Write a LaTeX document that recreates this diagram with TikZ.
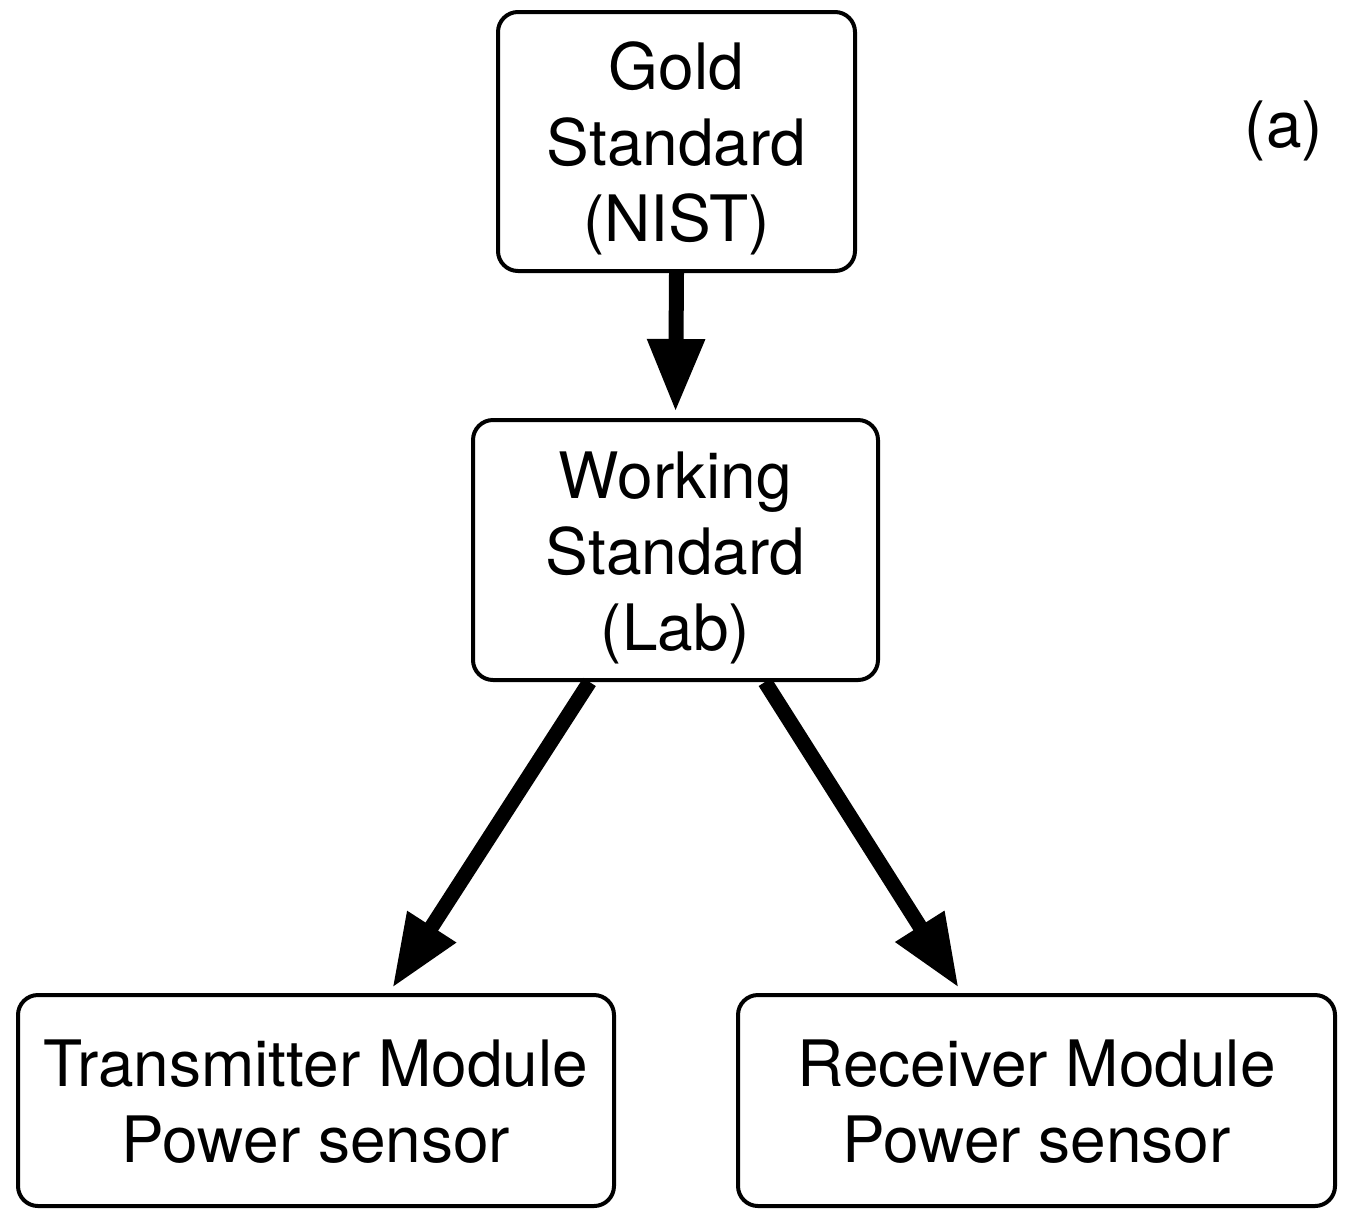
\documentclass[tikz,border=0pt]{standalone}
\usepackage{fontspec}
\setmainfont{TeX Gyre Heros}
\usetikzlibrary{arrows.meta}
\newcommand\bxtxt[1]{\raisebox{-9pt}[\height][\depth]{\begin{tabular}{@{}c@{}}#1\end{tabular}}}
\begin{document}
\begin{tikzpicture}[x=1pt,y=-1pt,
  box/.style={draw=black, line width=4pt, rounded corners=20pt,
    font=\fontsize{64}{76}\selectfont, inner sep=0pt},
  conn/.style={line width=15pt, -{Triangle[length=73pt,width=54pt]}, shorten >=6pt}]
\useasboundingbox (0,0) rectangle (1356,1211);
\node[box, minimum width=357pt, minimum height=259pt] (gold) at (676.5,141.5) {\bxtxt{Gold\\Standard\\(NIST)}};
\node[box, minimum width=405pt, minimum height=260pt] (work) at (675.5,550) {\bxtxt{Working\\Standard\\(Lab)}};
\node[box, minimum width=596pt, minimum height=211pt] (trans) at (316,1100.5) {\bxtxt{Transmitter Module\\Power sensor}};
\node[box, minimum width=597pt, minimum height=211pt] (recv) at (1036.5,1100.5) {\bxtxt{Receiver Module\\Power sensor}};
\node[font=\fontsize{64}{76}\selectfont, inner sep=0pt] (lab) at (1284,131) {(a)};
\draw[conn] (gold.south) -- (work.north);
\draw[conn] ([xshift=-86pt]work.south) -- ([xshift=73pt]trans.north);
\draw[conn] ([xshift=89.5pt]work.south) -- ([xshift=-74.5pt]recv.north);
\end{tikzpicture}
\end{document}
